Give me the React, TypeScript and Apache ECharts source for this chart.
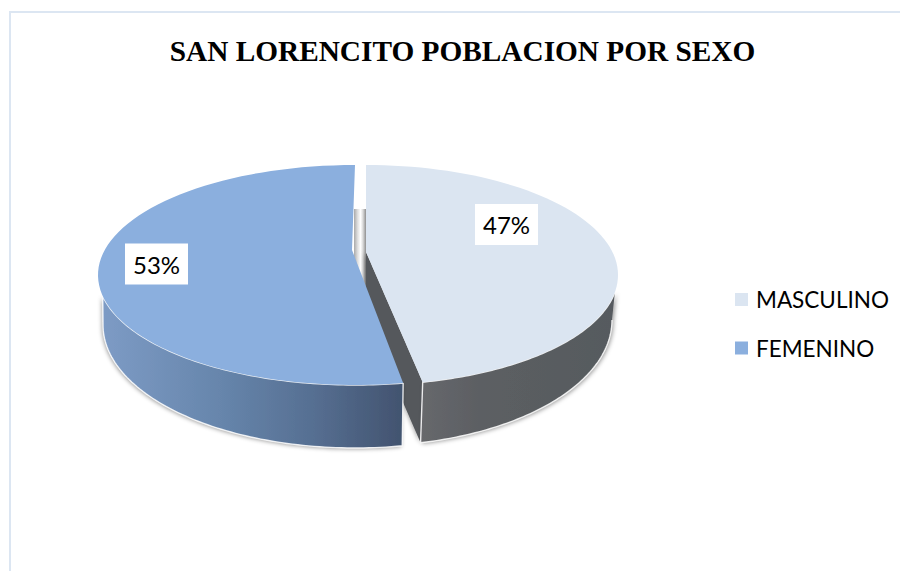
import React, { useEffect, useRef } from "react";
import * as echarts from "echarts";

const titleText = "SAN LORENCITO POBLACION POR SEXO";
const categories = ["MASCULINO", "FEMENINO"];
const shareValues = [47, 53];
const topColors = ["#DBE5F1", "#8BAFDE"];

// Projection of each slice's disc: top ellipse, bottom ellipse, apex, label box.
const DISCS = [
  {
    top: { cx: 366, cy: 275, rx: 252, ry: 110 },
    bottom: { cx: 365, cy: 320, rx: 247, ry: 126 },
    apex: [366, 252],
    skew: [0, -2.2],
    wallRange: [90, 99],
    label: [506.5, 224.5],
    wall: [[0, "#67686c"], [0.3, "#5c5f63"], [1, "#565a5e"]],
  },
  {
    top: { cx: 355, cy: 275, rx: 257, ry: 110 },
    bottom: { cx: 355, cy: 325, rx: 252, ry: 123 },
    apex: [352, 250],
    skew: [0, 0],
    wallRange: [270, 259],
    label: [156.5, 264],
    wall: [[0, "#7d9bc5"], [0.4, "#6685ab"], [0.7, "#566f92"], [1, "#42536f"]],
  },
];

const total = shareValues.reduce((a, b) => a + b, 0);
const cumulative = (i: number) =>
  shareValues.slice(0, i).reduce((a, b) => a + b, 0);

const pt = (e: any, deg: number) => {
  const r = (deg * Math.PI) / 180;
  return [e.cx + e.rx * Math.sin(r), e.cy - e.ry * Math.cos(r)];
};
const arc = (e: any, from: number, to: number) => {
  const n = 80;
  const out: number[][] = [];
  for (let k = 0; k <= n; k++) out.push(pt(e, from + ((to - from) * k) / n));
  return out;
};

const renderSlice = (i: number) => (_params: any, api: any) => {
  const d: any = DISCS[i];
  const value = api.value(0);
  const a0 = (cumulative(i) / total) * 360 + d.skew[0];
  const a1 = a0 + (value / total) * 360 - d.skew[0] + d.skew[1];
  const children: any[] = [];
  const wallFill = new echarts.graphic.LinearGradient(
    0, 0, 1, 0,
    d.wall.map((s: any) => ({ offset: s[0], color: s[1] })),
  );
  const rim = { stroke: "#ffffff", lineWidth: 1.4, fill: "none", opacity: 0.85 };

  if (i === 0) {
    const end = pt(d.top, a1);
    const endB = pt(d.bottom, a1);
    const slope = (end[1] - d.apex[1]) / (end[0] - d.apex[0]);
    const apexB = [d.apex[0], endB[1] - (endB[0] - d.apex[0]) * slope];
    children.push({
      type: "polygon",
      z2: 1,
      shape: { points: [d.apex, end, endB, apexB] },
      style: { fill: "#55585c", shadowBlur: 4, shadowColor: "rgba(0,0,0,0.35)", shadowOffsetX: -1 },
    });
    const topW = arc(d.top, d.wallRange[1], a1);
    const botW = arc(d.bottom, a1, d.wallRange[0]);
    children.push({
      type: "polygon",
      z2: 2,
      shape: { points: [...topW, ...botW] },
      style: { fill: wallFill, shadowBlur: 4, shadowColor: "rgba(0,0,0,0.4)", shadowOffsetX: 1.5, shadowOffsetY: 1 },
    });
    children.push({ type: "polyline", z2: 4, shape: { points: [...topW, ...botW] }, style: rim });
    // Strips seen through the gap between the two slices
    children.push({
      type: "rect",
      z2: 0,
      shape: { x: 354, y: 209, width: 12, height: 90 },
      style: {
        fill: new echarts.graphic.LinearGradient(0, 0, 1, 0, [
          { offset: 0, color: "#a9a9a9" },
          { offset: 0.3, color: "#dedede" },
          { offset: 0.55, color: "#ffffff" },
          { offset: 0.75, color: "#d8d8d8" },
          { offset: 1, color: "#8f8f8f" },
        ]),
      },
    });
  } else {
    const topW = arc(d.top, a0, d.wallRange[1]);
    const botW = arc(d.bottom, d.wallRange[0], a0);
    children.push({
      type: "polygon",
      z2: 3,
      shape: { points: [...topW, ...botW] },
      style: { fill: wallFill, shadowBlur: 4, shadowColor: "rgba(0,0,0,0.4)", shadowOffsetX: -1, shadowOffsetY: 1 },
    });
    children.push({ type: "polyline", z2: 4, shape: { points: [...topW, ...botW, topW[0]] }, style: rim });
  }

  const rimTop = arc(d.top, a0, a1);
  children.push({
    type: "polygon",
    z2: 5,
    shape: { points: [d.apex, ...rimTop] },
    style: { fill: topColors[i] },
  });

  const [lx, ly] = d.label;
  children.push({
    type: "rect",
    z2: 6,
    shape: { x: lx - 31.5, y: ly - 20.5, width: 63, height: 41 },
    style: { fill: "#ffffff" },
  });
  children.push({
    type: "text",
    z2: 7,
    x: lx,
    y: ly,
    style: {
      text: `${Math.round((value / total) * 100)}%`,
      fontFamily: "Lato",
      fontSize: 24,
      fill: "#000000",
      align: "center",
      verticalAlign: "middle",
    },
  });
  return { type: "group", children };
};

export default function App() {
  const ref = useRef<HTMLDivElement>(null);
  useEffect(() => {
    const chart = echarts.init(ref.current!, undefined, { renderer: "svg" });
    chart.setOption({
      animation: false,
      backgroundColor: "#ffffff",
      title: {
        text: titleText,
        left: 457.5,
        top: 31,
        textAlign: "center",
        textStyle: {
          fontFamily: "Liberation Serif",
          fontWeight: "bold",
          fontSize: 29.3,
          color: "#000000",
        },
      },
      legend: {
        orient: "vertical",
        left: 730,
        top: 283,
        data: categories,
        icon: "rect",
        itemWidth: 13,
        itemHeight: 13,
        itemGap: 25.5,
        selectedMode: false,
        textStyle: { fontFamily: "Lato", fontSize: 22.5, color: "#000000", padding: [0, 0, 0, 3] },
      },
      graphic: [
        { type: "rect", silent: true, shape: { x: 9, y: 11, width: 891, height: 2 }, style: { fill: "#DCE6F2" } },
        { type: "rect", silent: true, shape: { x: 9, y: 11, width: 2, height: 560 }, style: { fill: "#DCE6F2" } },
      ],
      series: categories.map((name, i) => ({
        type: "custom",
        name,
        coordinateSystem: "none",
        silent: true,
        itemStyle: { color: topColors[i] },
        data: [shareValues[i]],
        renderItem: renderSlice(i),
      })),
    });
    return () => chart.dispose();
  }, []);
  return (
    <div
      ref={ref}
      style={{ position: "fixed", left: 0, top: 0, width: 900, height: 571 }}
    />
  );
}
